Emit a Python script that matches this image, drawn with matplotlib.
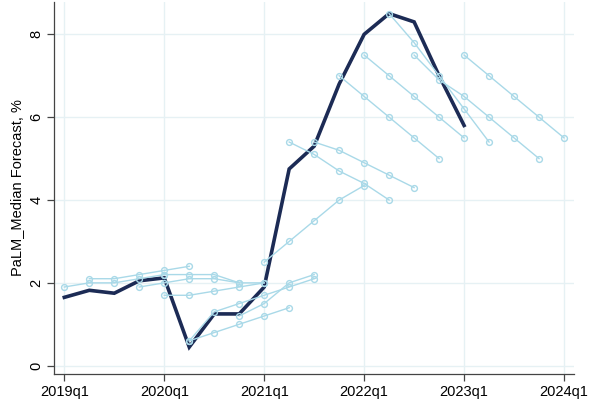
import matplotlib
matplotlib.use("Agg")
import matplotlib.pyplot as plt

plt.rcParams['font.family'] = ['Liberation Sans', 'DejaVu Sans']

# Quarter labels (index 0 = 2019q1)
quarters = ["2019q1", "2019q2", "2019q3", "2019q4",
            "2020q1", "2020q2", "2020q3", "2020q4",
            "2021q1", "2021q2", "2021q3", "2021q4",
            "2022q1", "2022q2", "2022q3", "2022q4",
            "2023q1", "2023q2", "2023q3", "2023q4", "2024q1"]
tick_labels = ["2019q1", "2020q1", "2021q1", "2022q1", "2023q1", "2024q1"]

# Actual series (2019q1 .. 2023q1)
actual = [1.65, 1.82, 1.75, 2.05, 2.12, 0.45, 1.25, 1.25, 1.9,
          4.75, 5.3, 6.8, 8.0, 8.5, 8.3, 7.0, 5.8]

# Forecast vintages: start quarter and forecast path
fc_2019q1_start, fc_2019q1 = "2019q1", [1.9, 2.0, 2.0, 2.1, 2.2]
fc_2019q2_start, fc_2019q2 = "2019q2", [2.1, 2.1, 2.2, 2.3, 2.4]
fc_2019q4_start, fc_2019q4 = "2019q4", [1.9, 2.0, 2.1, 2.1, 2.0]
fc_2020q1a_start, fc_2020q1a = "2020q1", [2.2, 2.2, 2.2, 2.0, 2.0]
fc_2020q1b_start, fc_2020q1b = "2020q1", [1.7, 1.7, 1.8, 1.9, 2.0]
fc_2020q2a_start, fc_2020q2a = "2020q2", [0.6, 1.3, 1.5, 1.7, 1.9, 2.1]
fc_2020q2b_start, fc_2020q2b = "2020q2", [0.6, 0.8, 1.0, 1.2, 1.4]
fc_2020q4_start, fc_2020q4 = "2020q4", [1.2, 1.5, 2.0, 2.2]
fc_2021q1_start, fc_2021q1 = "2021q1", [2.5, 3.0, 3.5, 4.0, 4.35]
fc_2021q2_start, fc_2021q2 = "2021q2", [5.4, 5.1, 4.7, 4.4, 4.0]
fc_2021q3_start, fc_2021q3 = "2021q3", [5.4, 5.2, 4.9, 4.6, 4.3]
fc_2021q4_start, fc_2021q4 = "2021q4", [7.0, 6.5, 6.0, 5.5, 5.0]
fc_2022q1_start, fc_2022q1 = "2022q1", [7.5, 7.0, 6.5, 6.0, 5.5]
fc_2022q2_start, fc_2022q2 = "2022q2", [8.5, 7.8, 7.0, 6.2, 5.4]
fc_2022q3_start, fc_2022q3 = "2022q3", [7.5, 6.9, 6.5, 6.0, 5.5, 5.0]
fc_2023q1_start, fc_2023q1 = "2023q1", [7.5, 7.0, 6.5, 6.0, 5.5]

forecasts = [
    (fc_2019q1_start, fc_2019q1), (fc_2019q2_start, fc_2019q2),
    (fc_2019q4_start, fc_2019q4), (fc_2020q1a_start, fc_2020q1a),
    (fc_2020q1b_start, fc_2020q1b), (fc_2020q2a_start, fc_2020q2a),
    (fc_2020q2b_start, fc_2020q2b), (fc_2020q4_start, fc_2020q4),
    (fc_2021q1_start, fc_2021q1), (fc_2021q2_start, fc_2021q2),
    (fc_2021q3_start, fc_2021q3), (fc_2021q4_start, fc_2021q4),
    (fc_2022q1_start, fc_2022q1), (fc_2022q2_start, fc_2022q2),
    (fc_2022q3_start, fc_2022q3), (fc_2023q1_start, fc_2023q1),
]

y_ticks = [0, 2, 4, 6, 8]

navy = "#1c2b55"
light = "#a9d9e8"
grid_c = "#e6f1f4"
axis_c = "#444444"

fig = plt.figure(figsize=(5.97, 4.04), dpi=100)
ax = fig.add_axes([0.091, 0.0743, 0.8705, 0.9207])

x_actual = list(range(len(actual)))
ax.plot(x_actual, actual, color=navy, lw=2.6, solid_joinstyle='miter', zorder=3)

for start, vals in forecasts:
    s = quarters.index(start)
    xs = list(range(s, s + len(vals)))
    ax.plot(xs, vals, color=light, lw=1.0, marker='o', ms=4.2,
            mfc='none', mec=light, mew=1.0, zorder=4)

xt = [quarters.index(t) for t in tick_labels]
ax.set_xticks(xt)
ax.set_xticklabels(tick_labels, fontsize=10.5)
ax.set_yticks(y_ticks)
ax.set_yticklabels([str(v) for v in y_ticks], fontsize=10.5, rotation=90, va='center')
ax.set_xlim(-0.4, 20.4)
ax.set_ylim(-0.2, 8.78)

ax.set_ylabel("PaLM_Median Forecast, %", fontsize=10.5, labelpad=4)

ax.grid(True, color=grid_c, lw=1.0, zorder=0)
ax.set_axisbelow(True)
for sp in ['top', 'right']:
    ax.spines[sp].set_visible(False)
for sp in ['left', 'bottom']:
    ax.spines[sp].set_color(axis_c)
    ax.spines[sp].set_linewidth(0.9)
ax.tick_params(axis='both', direction='out', length=5, width=0.9, color=axis_c,
               labelcolor='black', pad=3)

fig.savefig("out.png", dpi=100)
